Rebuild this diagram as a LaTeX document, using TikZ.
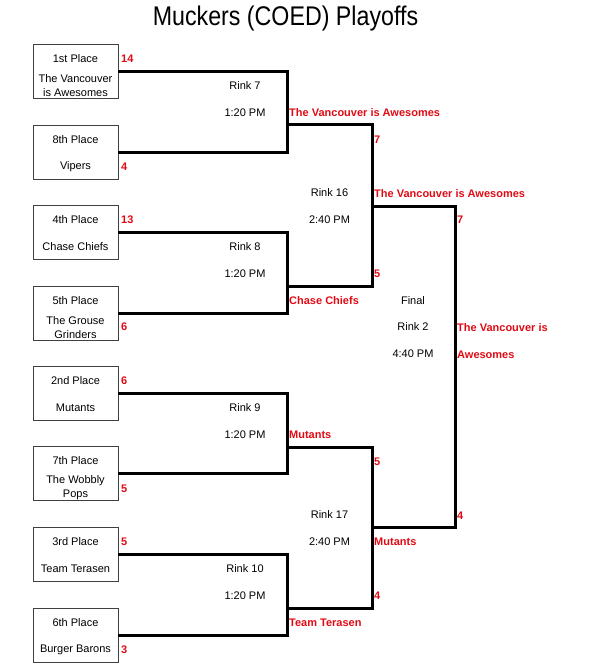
\documentclass[tikz,border=0pt]{standalone}
\usepackage{fontspec}
\setmainfont{Liberation Sans}
\newfontfamily\titlefont[FakeStretch=0.86]{Liberation Sans}
\usepackage{xcolor}
\usetikzlibrary{positioning}
\definecolor{scorered}{RGB}{225,10,20}

\begin{document}
\begin{tikzpicture}[x=1pt,y=-1pt,
                    team box/.style={draw=black!75,line width=0.8pt,minimum width=85pt,minimum height=54pt,inner sep=0pt},
                    info/.style={font=\fontsize{11}{14}\selectfont,text height=8pt,text depth=0pt,inner sep=0pt},
                    team name/.style={font=\fontsize{11}{14}\selectfont,align=center,inner sep=0pt},
                    winner/.style={info,font=\fontsize{11}{14}\selectfont\bfseries,text=scorered,anchor=west},
                    bracket/.style={line width=3pt,line join=miter}]

  \useasboundingbox (0,0) rectangle (590,670);
  \node[font=\titlefont\fontsize{27}{30}\selectfont,anchor=base] (title) at (285.5,25) {Muckers (COED) Playoffs};

  % seeded teams
  \foreach \i/\y/\pl/\tm/\sy/\sc in {1/71/1st Place/{The Vancouver\\is Awesomes}/58/14,
                                     2/152/8th Place/Vipers/166/4,
                                     3/232/4th Place/Chase Chiefs/219/13,
                                     4/313/5th Place/{The Grouse\\Grinders}/326/6,
                                     5/393/2nd Place/Mutants/380/6,
                                     6/473/7th Place/{The Wobbly\\Pops}/488/5,
                                     7/554/3rd Place/Team Terasen/541/5,
                                     8/635/6th Place/Burger Barons/649/3}{
    \node[team box] (t\i) at (75.5,\y) {};
    \node[info] (place\i) at (75.5,\y-13) {\pl};
    \node[team name] (name\i) at (75.5,\y+15) {\tm};
    \node[winner] (score\i) at (121,\sy) {\sc};
  }

  \coordinate (w1) at (287,124);
  \coordinate (w2) at (287,286);
  \coordinate (w3) at (287,447);
  \coordinate (w4) at (287,608);
  \coordinate (s1) at (372,206);
  \coordinate (s2) at (372,527);
  \coordinate (fin) at (455,366);

  \draw[bracket] (t1.east) -| (w1) |- (t2.east);
  \draw[bracket] (t3.east) -| (w2) |- (t4.east);
  \draw[bracket] (t5.east) -| (w3) |- (t6.east);
  \draw[bracket] (t7.east) -| (w4) |- (t8.east);
  \draw[bracket] (w1) -| (s1) |- (w2);
  \draw[bracket] (w3) -| (s2) |- (w4);
  \draw[bracket] (s1) -| (fin) |- (s2);

  % rinks and times
  \foreach \n/\x/\y/\txt in {rink7/245/85/Rink 7, time7/245/112/1:20 PM,
                             rink8/245/246/Rink 8, time8/245/273/1:20 PM,
                             rink9/245/407/Rink 9, time9/245/434/1:20 PM,
                             rink10/245/568/Rink 10, time10/245/595/1:20 PM,
                             rink16/329.5/192/Rink 16, time16/329.5/219/2:40 PM,
                             rink17/329.5/514/Rink 17, time17/329.5/541/2:40 PM,
                             final/413/300/Final, rink2/413/326/Rink 2, time2/413/353/4:40 PM}
    \node[info] (\n) at (\x,\y) {\txt};

  % results
  \foreach \n/\x/\y/\txt in {win7/289/112/The Vancouver is Awesomes,
                             win8/289/300/Chase Chiefs,
                             win9/289/434/Mutants,
                             win10/289/622/Team Terasen,
                             sa/374/139/7, sb/374/273/5, sc/374/461/5, sd/374/595/4,
                             win16/374/193/The Vancouver is Awesomes,
                             win17/374/541/Mutants,
                             fa/457/219/7, fb/457/515/4,
                             champa/457/327/The Vancouver is, champb/457/354/Awesomes}
    \node[winner] (\n) at (\x,\y) {\txt};
\end{tikzpicture}
\end{document}
